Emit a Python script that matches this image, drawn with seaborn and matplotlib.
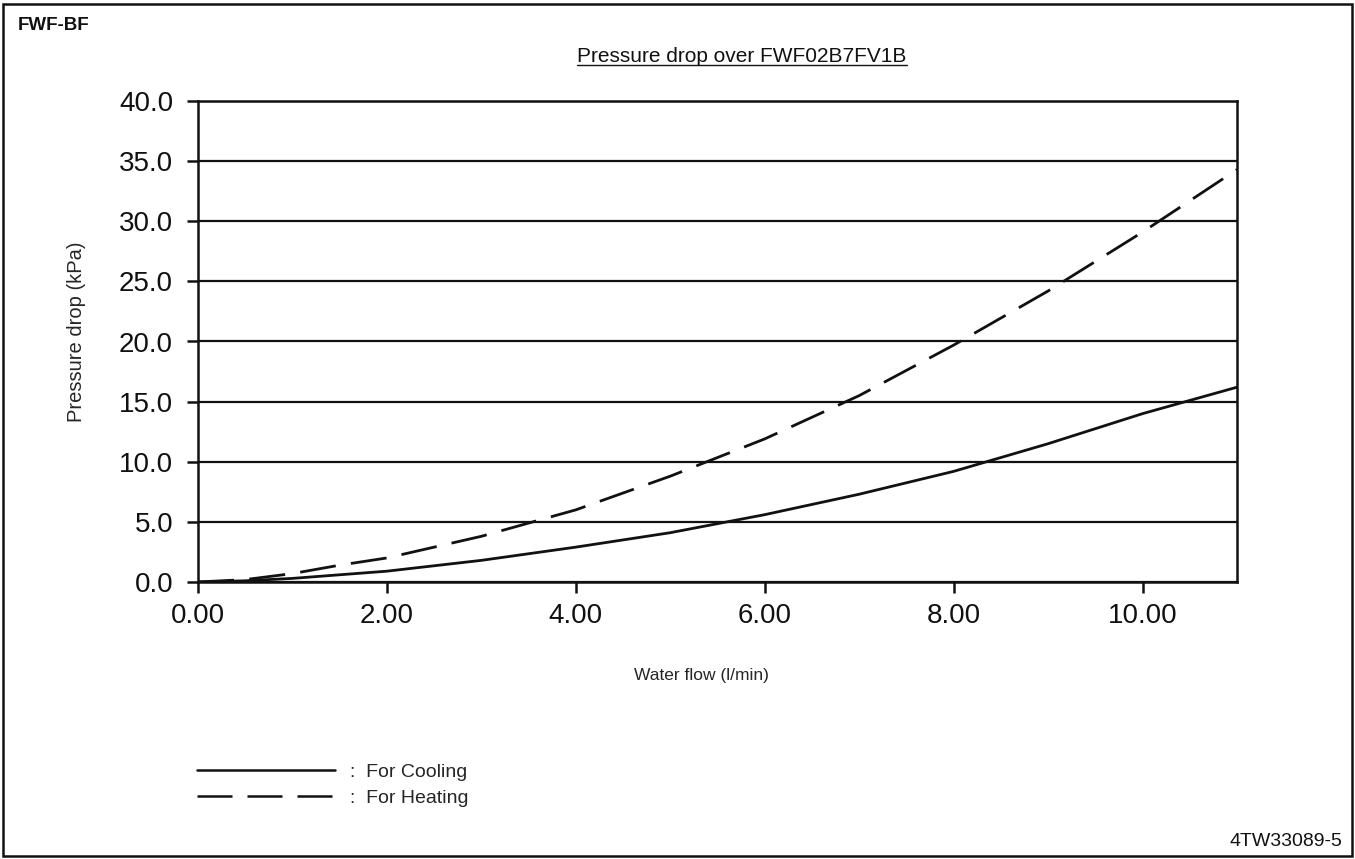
import matplotlib
matplotlib.use("Agg")
import matplotlib.pyplot as plt
import matplotlib.patches as mpatches
from matplotlib.lines import Line2D
import seaborn as sns
import pandas as pd

# values
flow = [0, 0.5, 1, 1.5, 2, 3, 4, 5, 6, 7, 8, 9, 10, 11]
cooling = [0.0, 0.1, 0.3, 0.6, 0.9, 1.8, 2.9, 4.1, 5.6, 7.3, 9.2, 11.5, 14.0, 16.2]
heating = [0.0, 0.2, 0.7, 1.4, 2.0, 3.8, 6.0, 8.8, 11.9, 15.5, 19.7, 24.2, 29.1, 34.3]

x_ticks = [0, 2, 4, 6, 8, 10]
x_tick_labels = ["0.00", "2.00", "4.00", "6.00", "8.00", "10.00"]
y_ticks = [0, 5, 10, 15, 20, 25, 30, 35, 40]
y_tick_labels = ["0.0", "5.0", "10.0", "15.0", "20.0", "25.0", "30.0", "35.0", "40.0"]

df = pd.DataFrame({
    "flow": flow * 2,
    "dp": cooling + heating,
    "mode": ["Cooling"] * len(flow) + ["Heating"] * len(flow),
})

sns.set_style("white")
plt.rcParams["font.family"] = ["Liberation Sans", "DejaVu Sans"]

W, H = 1355, 859
fig = plt.figure(figsize=(W / 100, H / 100), dpi=100)
ax = fig.add_axes([198 / W, 1 - 582 / H, (1237 - 198) / W, (582 - 101) / H])

sns.lineplot(data=df, x="flow", y="dp", style="mode",
             dashes={"Cooling": "", "Heating": (13, 5.5)},
             color="#111111", linewidth=2.0, legend=False, ax=ax)

ax.set_xlim(0, 11)
ax.set_ylim(0, 40)
ax.set_xticks(x_ticks)
ax.set_xticklabels(x_tick_labels, fontsize=20)
ax.set_yticks(y_ticks)
ax.set_yticklabels(y_tick_labels, fontsize=20)
ax.tick_params(axis="both", direction="out", length=8, width=1.8, color="#111111",
               labelcolor="#111111", bottom=True, left=True)
ax.tick_params(axis="x", pad=7)
ax.tick_params(axis="y", pad=10)

ax.yaxis.grid(True, color="#111111", linewidth=1.6)
ax.xaxis.grid(False)
for side in ["left", "bottom", "top", "right"]:
    ax.spines[side].set_visible(True)
    ax.spines[side].set_color("#111111")
    ax.spines[side].set_linewidth(1.8)

ax.set_xlabel("Water flow (l/min)", fontsize=12.5, va="center")
ax.xaxis.set_label_coords(0.485, -0.195)
ax.set_ylabel("Pressure drop (kPa)", fontsize=14.5, va="center")
ax.yaxis.set_label_coords(-0.117, 0.52)

# legend
handles = [Line2D([], [], color="#111111", linewidth=1.8),
           Line2D([], [], color="#111111", linewidth=1.8, dashes=(14, 6))]
fig.legend(handles, [":  For Cooling", ":  For Heating"], loc="center left",
           bbox_to_anchor=(197 / W, 1 - 785 / H), frameon=False, fontsize=14,
           handlelength=7.1, handletextpad=0.75, labelspacing=0.45,
           borderpad=0, borderaxespad=0)

# header texts
fig.text(18 / W, 1 - 25 / H, "FWF-BF", fontsize=13.5, fontweight="bold",
         ha="left", va="center", color="#111111")
title = fig.text(742 / W, 1 - 56 / H, "Pressure drop over FWF02B7FV1B",
                 fontsize=15, ha="center", va="center", color="#111111")
fig.text(1342 / W, 1 - 842 / H, "4TW33089-5", fontsize=14,
         ha="right", va="center", color="#111111")

# underline for the title
fig.canvas.draw()
bb = title.get_window_extent()
uy = bb.y0 + 1
fig.add_artist(Line2D([bb.x0 / W, bb.x1 / W], [uy / H, uy / H],
                      transform=fig.transFigure, color="#111111", linewidth=1.0))

# page frame
fig.add_artist(mpatches.Rectangle((3 / W, 3 / H), (W - 6) / W, (H - 7) / H,
                                  transform=fig.transFigure, fill=False,
                                  edgecolor="#111111", linewidth=1.8))

fig.savefig("out.png", dpi=100)
